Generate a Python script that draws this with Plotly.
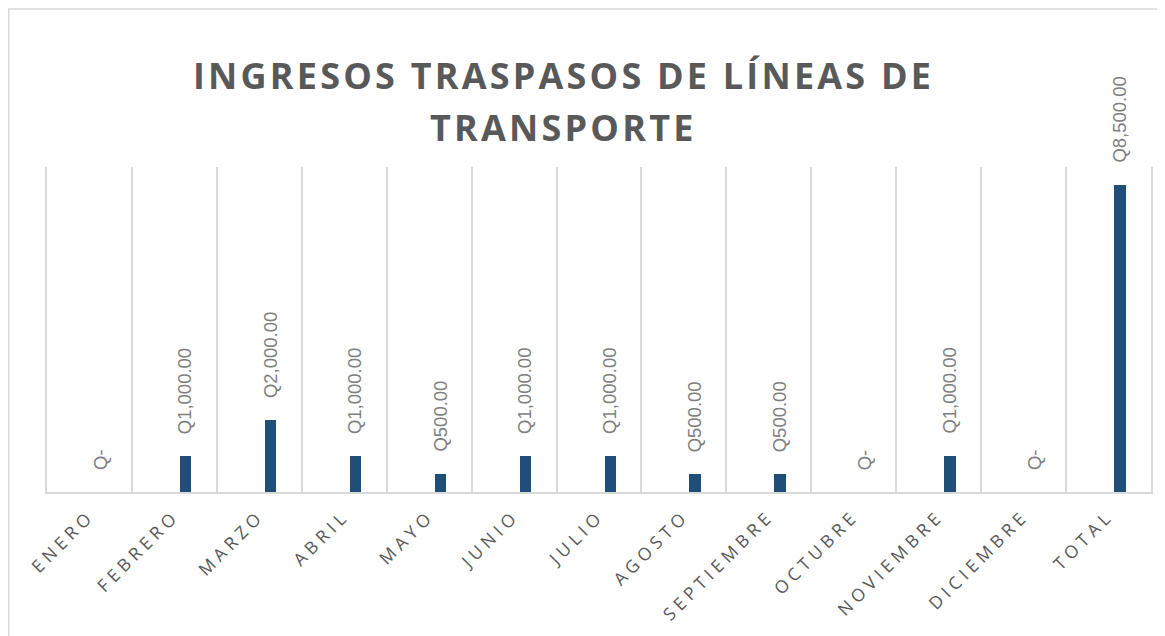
import plotly.graph_objects as go

months = ["ENERO", "FEBRERO", "MARZO", "ABRIL", "MAYO", "JUNIO", "JULIO",
          "AGOSTO", "SEPTIEMBRE", "OCTUBRE", "NOVIEMBRE", "DICIEMBRE", "TOTAL"]
ingresos = [0, 1000, 2000, 1000, 500, 1000, 1000, 500, 500, 0, 1000, 0, 8500]
title_lines = ["INGRESOS TRASPASOS DE LÍNEAS DE", "TRANSPORTE"]

# the page body adds an 8px margin, so the figure is sized to fill the rest
W, H = 1157, 628
ML, MR, MT, MB = 39, 14, 159, 144
PW, PH = W - ML - MR, H - MT - MB

BAR_COLOR = "#1F4E79"
GRID = "#D9D9D9"


def fmt(v):
    return f"Q{v:,.2f}" if v else "Q-"


def spaced(t, px):
    return f'<span style="letter-spacing:{px}px">{t}</span>'


def px_x(x):
    return (x - ML) / PW


def px_y(y):
    return (H - MB - y) / PH


fig = go.Figure()
fig.add_trace(go.Bar(
    x=months, y=ingresos,
    marker=dict(color=BAR_COLOR, line=dict(width=0)),
    width=0.135, offset=0.065,
    hoverinfo="skip",
))

for m, v in zip(months, ingresos):
    fig.add_annotation(
        x=m, y=v, xref="x", yref="y",
        text=fmt(v), showarrow=False, textangle=-90,
        xanchor="center", yanchor="bottom",
        xshift=11, yshift=20,
        font=dict(family="Liberation Sans", size=18.5, color="#7F7F7F"),
    )

# chart title, one annotation per line
for line, yc in zip(title_lines, [68, 120]):
    fig.add_annotation(
        x=px_x(555), y=px_y(yc), xref="paper", yref="paper",
        text=spaced(line, 3.2), showarrow=False,
        xanchor="center", yanchor="middle",
        font=dict(family="Open Sans", size=36, color="#595959", weight="bold"),
    )

# outer chart border
fig.add_shape(
    type="rect", xref="paper", yref="paper",
    x0=px_x(0.75), x1=px_x(W + 20),
    y0=px_y(H + 20), y1=px_y(1),
    line=dict(color=GRID, width=1.5), fillcolor="rgba(0,0,0,0)", layer="below",
)

fig.update_layout(
    width=W, height=H, autosize=False,
    margin=dict(l=ML, r=MR, t=MT, b=MB, pad=0),
    paper_bgcolor="white", plot_bgcolor="white",
    showlegend=False, bargap=0,
    xaxis=dict(
        type="category", tickson="boundaries",
        tickmode="array", tickvals=months,
        ticktext=[spaced(m, 4.6) for m in months],
        tickangle=-45, ticks="", ticklabelstandoff=5,
        showgrid=True, gridcolor=GRID, gridwidth=1.5,
        showline=True, linecolor=GRID, linewidth=1.8,
        tickfont=dict(family="Open Sans", size=17.5, color="#595959"),
        range=[-0.5, len(months) - 0.5],
        zeroline=False,
    ),
    yaxis=dict(
        range=[0, 9000], showgrid=False, zeroline=False,
        showticklabels=False, ticks="",
        showline=True, mirror=True, linecolor=GRID, linewidth=1.5,
    ),
)

fig.write_html("out.html")
